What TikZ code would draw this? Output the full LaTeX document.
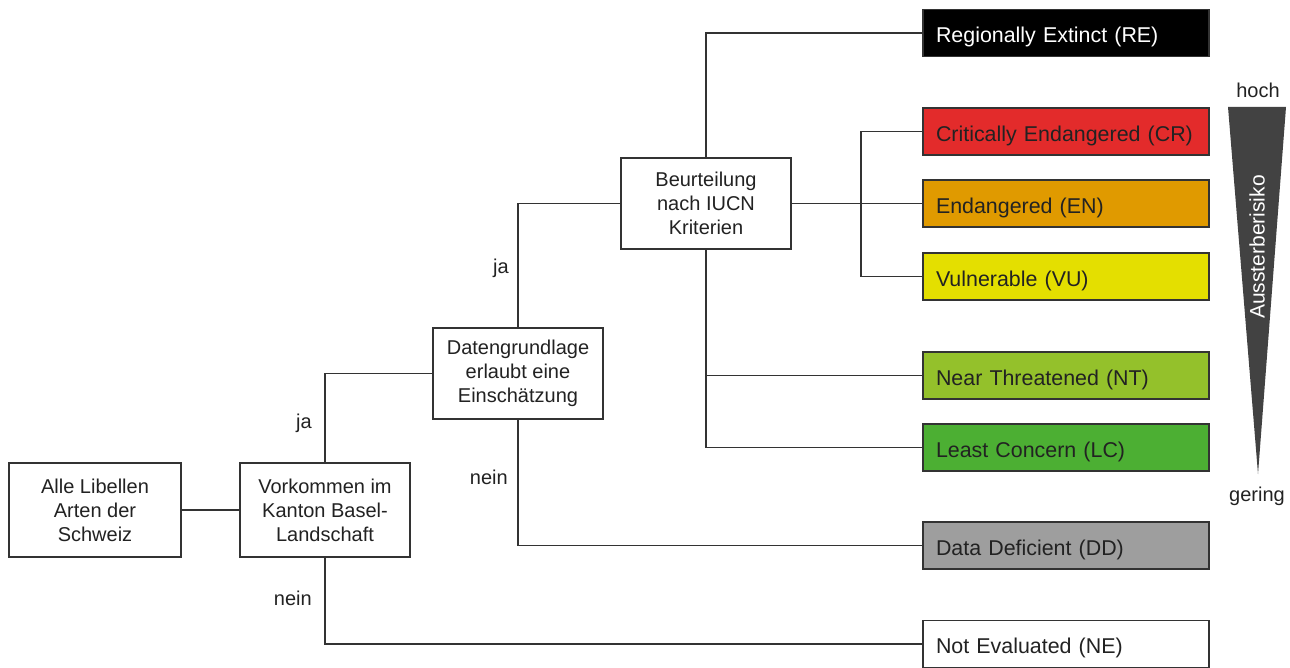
\documentclass[tikz,border=0pt]{standalone}
\usepackage{fontspec}
\setmainfont{Liberation Sans}
\definecolor{cCR}{HTML}{E32B2B}
\definecolor{cEN}{HTML}{E09A00}
\definecolor{cVU}{HTML}{E4DF00}
\definecolor{cNT}{HTML}{94C12B}
\definecolor{cLC}{HTML}{4CAF33}
\definecolor{cDD}{HTML}{9E9E9E}
\definecolor{cLine}{HTML}{333333}
\definecolor{cTri}{HTML}{424242}
\definecolor{cText}{HTML}{222222}
\begin{document}
\begin{tikzpicture}[x=1pt,y=-1pt,
  every node/.style={font=\fontsize{20}{24}\selectfont, text=cText},
  conn/.style={draw=cLine, line width=1.7pt},
  decbox/.style={draw=cLine, line width=1.7pt, fill=white, align=center, inner sep=0pt, minimum width=171pt, minimum height=92pt},
  catbox/.style={draw=cLine, line width=1.7pt, inner xsep=13pt, inner ysep=0pt, minimum width=286pt, minimum height=47pt, text width=260pt, text height=19.5pt, text depth=0pt, align=left, font=\fontsize{21.4}{24}\selectfont},
  lbl/.style={anchor=east, inner sep=0pt}
]
\useasboundingbox (0,0) rectangle (1290,668);
% decision boxes
\node[decbox, minimum width=172pt, minimum height=94pt] (alle) at (95,510) {Alle Libellen\\Arten der\\Schweiz};
\node[decbox, minimum width=170pt, minimum height=94pt] (vork) at (325,510) {Vorkommen im\\Kanton Basel-\\Landschaft};
\node[decbox, minimum width=170pt, minimum height=91pt] (dat) at (518,373.5) {Datengrundlage\\erlaubt eine\\Einsch\"atzung};
\node[decbox, minimum width=170pt, minimum height=91pt] (beu) at (706,203.5) {Beurteilung\\nach IUCN\\Kriterien};
% category boxes
\node[catbox, fill=black, text=white] (re) at (1066,33) {Regionally Extinct (RE)};
\node[catbox, fill=cCR] (cr) at (1066,131.5) {Critically Endangered (CR)};
\node[catbox, fill=cEN] (en) at (1066,203.5) {Endangered (EN)};
\node[catbox, fill=cVU] (vu) at (1066,276.5) {Vulnerable (VU)};
\node[catbox, fill=cNT] (nt) at (1066,375.5) {Near Threatened (NT)};
\node[catbox, fill=cLC] (lc) at (1066,447.5) {Least Concern (LC)};
\node[catbox, fill=cDD] (dd) at (1066,545.5) {Data Deficient (DD)};
\node[catbox, fill=white] (ne) at (1066,644) {Not Evaluated (NE)};
% connectors
\coordinate (fork) at (861,203.5);
\draw[conn] (alle.east) -- (vork.west);
\draw[conn] (vork.north) |- (dat.west);
\draw[conn] (dat.north) |- (beu.west);
\draw[conn] (beu.north) |- (re.west);
\draw[conn] (beu.south) |- (lc.west);
\draw[conn] (beu.south |- nt.west) -- (nt.west);
\draw[conn] (beu.east) -- (en.west);
\draw[conn] (cr.west) -| (fork) |- (vu.west);
\draw[conn] (dat.south) |- (dd.west);
\draw[conn] (vork.south) |- (ne.west);
% labels
\node[lbl] (ja1) at (312,423) {ja};
\node[lbl] (nein1) at (312,598) {nein};
\node[lbl] (ja2) at (509,268) {ja};
\node[lbl] (nein2) at (508,477) {nein};
% risk wedge
\fill[cTri] (1228,107) -- (1286,107) -- (1258,474) -- cycle;
\node[rotate=90, text=white, font=\fontsize{21}{24}\selectfont] (auss) at (1257,247) {Aussterberisiko};
\node (hoch) at (1258,90) {hoch};
\node (gering) at (1257,496) {gering};
\end{tikzpicture}
\end{document}
